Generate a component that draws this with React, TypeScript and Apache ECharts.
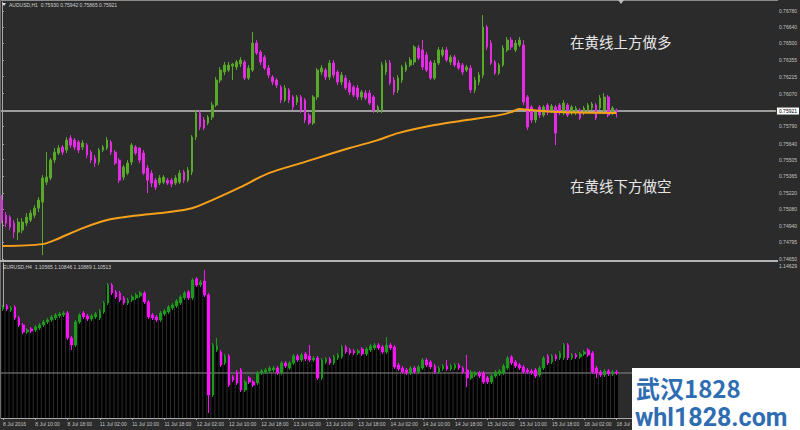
import React, { useEffect, useRef } from 'react';
import * as echarts from 'echarts';

// ---------- DATA ----------
const timeLabels = [
  '8 Jul 2016', '8 Jul 10:00', '8 Jul 18:00', '11 Jul 02:00', '11 Jul 10:00', '11 Jul 18:00',
  '12 Jul 02:00', '12 Jul 10:00', '12 Jul 18:00', '13 Jul 02:00', '13 Jul 10:00', '13 Jul 18:00',
  '14 Jul 02:00', '14 Jul 10:00', '14 Jul 18:00', '15 Jul 02:00', '15 Jul 10:00', '15 Jul 18:00',
  '18 Jul 02:00', '18 Jul 10:00',
];
const BARS_PER_LABEL = 8;
const TOTAL_SLOTS = 192; // bars that fit across the chart (right part left empty by chart shift)

const audPriceTicks = [
  0.7678, 0.7664, 0.765, 0.76355, 0.76215, 0.7607, 0.7579, 0.7564, 0.75505,
  0.75365, 0.7522, 0.7508, 0.7494, 0.74795, 0.7465,
];
const audBid = 0.75921;
const audHeader = 'AUDUSD,H1  0.75930 0.75942 0.75865 0.75921';

// AUDUSD H1 : [open, close, low, high]
const audCandles = [
  [0.75158, 0.74987, 0.74961, 0.75201], [0.75029, 0.74961, 0.74927, 0.75055], [0.75012, 0.74927, 0.74901, 0.75029],
  [0.74961, 0.74884, 0.74832, 0.74987], [0.74884, 0.7497, 0.74815, 0.75004], [0.74901, 0.7497, 0.74875, 0.75004],
  [0.74961, 0.75012, 0.74935, 0.75047], [0.74987, 0.75047, 0.7497, 0.75072], [0.75029, 0.75089, 0.75004, 0.75115],
  [0.75089, 0.75158, 0.75055, 0.75184], [0.75141, 0.75347, 0.74687, 0.75372], [0.75312, 0.75355, 0.75287, 0.75569],
  [0.75347, 0.75501, 0.75329, 0.75518], [0.75501, 0.75569, 0.75475, 0.75604], [0.75561, 0.75604, 0.75544, 0.75629],
  [0.75612, 0.75569, 0.75544, 0.75629], [0.75587, 0.75672, 0.75561, 0.75698], [0.75689, 0.75629, 0.75604, 0.75715],
  [0.75672, 0.75612, 0.75587, 0.75689], [0.75655, 0.75587, 0.75561, 0.75672], [0.75612, 0.75647, 0.75587, 0.75672],
  [0.75629, 0.75544, 0.75518, 0.75647], [0.75569, 0.75501, 0.75475, 0.75587], [0.75518, 0.75475, 0.75441, 0.75544],
  [0.75484, 0.75587, 0.75458, 0.75604], [0.75587, 0.75612, 0.75569, 0.75629], [0.75604, 0.75672, 0.75587, 0.75698],
  [0.75655, 0.75569, 0.75544, 0.75672], [0.75569, 0.75475, 0.75458, 0.75587], [0.75501, 0.75329, 0.75304, 0.75518],
  [0.75355, 0.75441, 0.75329, 0.75458], [0.75389, 0.75475, 0.75372, 0.75501], [0.75484, 0.75629, 0.75458, 0.75647],
  [0.75612, 0.75561, 0.75544, 0.75629], [0.75604, 0.75501, 0.75475, 0.75612], [0.75561, 0.75389, 0.75372, 0.75587],
  [0.75432, 0.75329, 0.75218, 0.75458], [0.75389, 0.75304, 0.75269, 0.75415], [0.75329, 0.75269, 0.75244, 0.75347],
  [0.75304, 0.75347, 0.75287, 0.75372], [0.75312, 0.75355, 0.75295, 0.75372], [0.75329, 0.75304, 0.75287, 0.75347],
  [0.75329, 0.75295, 0.75269, 0.75347], [0.75304, 0.75347, 0.75287, 0.75372], [0.75312, 0.75389, 0.75295, 0.75415],
  [0.75398, 0.75329, 0.75304, 0.75415], [0.75329, 0.75415, 0.75312, 0.75441], [0.75398, 0.75698, 0.75372, 0.75715],
  [0.75698, 0.75904, 0.75672, 0.75929], [0.75904, 0.75784, 0.75758, 0.75929], [0.75844, 0.75775, 0.75758, 0.75869],
  [0.75818, 0.75869, 0.75801, 0.75886], [0.75869, 0.75972, 0.75844, 0.75998], [0.75972, 0.76186, 0.75955, 0.76212],
  [0.76186, 0.76272, 0.76161, 0.76298], [0.76255, 0.76315, 0.76229, 0.76341], [0.76272, 0.76315, 0.76255, 0.76341],
  [0.76306, 0.76323, 0.76186, 0.76332], [0.76298, 0.76341, 0.76272, 0.76358], [0.76323, 0.76358, 0.76298, 0.76383],
  [0.76341, 0.76203, 0.76186, 0.76358], [0.76203, 0.76289, 0.76186, 0.76315], [0.76272, 0.76503, 0.76255, 0.76598],
  [0.76503, 0.76418, 0.76401, 0.76529], [0.76426, 0.76341, 0.76315, 0.76444], [0.76383, 0.76289, 0.76272, 0.76401],
  [0.76289, 0.76229, 0.76203, 0.76315], [0.76212, 0.76169, 0.76143, 0.76229], [0.76186, 0.76143, 0.76118, 0.76203],
  [0.76126, 0.76015, 0.75989, 0.76143], [0.76015, 0.76118, 0.75998, 0.76143], [0.76101, 0.76015, 0.75989, 0.76118],
  [0.76041, 0.75955, 0.75929, 0.76058], [0.75998, 0.76041, 0.75972, 0.76058], [0.76041, 0.75929, 0.75904, 0.76058],
  [0.76015, 0.75844, 0.75818, 0.76032], [0.75886, 0.75818, 0.75801, 0.75904], [0.75818, 0.76041, 0.75801, 0.76058],
  [0.76041, 0.76272, 0.76015, 0.76289], [0.76255, 0.76289, 0.76229, 0.76315], [0.76272, 0.76212, 0.76186, 0.76289],
  [0.76212, 0.76332, 0.76186, 0.76358], [0.76332, 0.76229, 0.76203, 0.76358], [0.76255, 0.76169, 0.76143, 0.76272],
  [0.76169, 0.76229, 0.76143, 0.76255], [0.76203, 0.76118, 0.76101, 0.76229], [0.76161, 0.76084, 0.76058, 0.76186],
  [0.76126, 0.76058, 0.76041, 0.76143], [0.76118, 0.76041, 0.76015, 0.76143], [0.76041, 0.76084, 0.76015, 0.76101],
  [0.76075, 0.76032, 0.76015, 0.76101], [0.76075, 0.75989, 0.75972, 0.76101], [0.76041, 0.75929, 0.75904, 0.76058],
  [0.75929, 0.75955, 0.75904, 0.75972], [0.75929, 0.76315, 0.75904, 0.76341], [0.76255, 0.76332, 0.76229, 0.76358],
  [0.76332, 0.76161, 0.76143, 0.76358], [0.76186, 0.76084, 0.76058, 0.76212], [0.76101, 0.76203, 0.76075, 0.76229],
  [0.76186, 0.76298, 0.76161, 0.76315], [0.76272, 0.76315, 0.76255, 0.76341], [0.76315, 0.76358, 0.76298, 0.76383],
  [0.76341, 0.76469, 0.76315, 0.76486], [0.76461, 0.76375, 0.76358, 0.76486], [0.76444, 0.76298, 0.76272, 0.76529],
  [0.76401, 0.76272, 0.76255, 0.76426], [0.76341, 0.76203, 0.76186, 0.76358], [0.76203, 0.76332, 0.76186, 0.76358],
  [0.76332, 0.76444, 0.76315, 0.76469], [0.76401, 0.76444, 0.76383, 0.76469], [0.76444, 0.76358, 0.76341, 0.76469],
  [0.76341, 0.76383, 0.76315, 0.76401], [0.76383, 0.76315, 0.76298, 0.76401], [0.76332, 0.76289, 0.76272, 0.76358],
  [0.76315, 0.76255, 0.76229, 0.76332], [0.76272, 0.76298, 0.76255, 0.76315], [0.76289, 0.76101, 0.76075, 0.76315],
  [0.76101, 0.76186, 0.76075, 0.76212], [0.76169, 0.76229, 0.76143, 0.76255], [0.76229, 0.76641, 0.76203, 0.76743],
  [0.76641, 0.76469, 0.76444, 0.76658], [0.76503, 0.76332, 0.76315, 0.76529], [0.76341, 0.76246, 0.76229, 0.76358],
  [0.76246, 0.76315, 0.76229, 0.76332], [0.76315, 0.76461, 0.76298, 0.76486], [0.76444, 0.76529, 0.76426, 0.76555],
  [0.76529, 0.76469, 0.76444, 0.76555], [0.76444, 0.76503, 0.76426, 0.76529], [0.76486, 0.76529, 0.76469, 0.76555],
  [0.76486, 0.75998, 0.75972, 0.76529], [0.76041, 0.75784, 0.75758, 0.76058], [0.75955, 0.75844, 0.75818, 0.75972],
  [0.75844, 0.75912, 0.75818, 0.75929], [0.75955, 0.75886, 0.75861, 0.75972], [0.75886, 0.75955, 0.75869, 0.75972],
  [0.75972, 0.75912, 0.75886, 0.75989], [0.75921, 0.75964, 0.75904, 0.75981], [0.75955, 0.75732, 0.75629, 0.75972],
  [0.75972, 0.75912, 0.75886, 0.75989], [0.75904, 0.75989, 0.75886, 0.76015], [0.75972, 0.75886, 0.75869, 0.75989],
  [0.75904, 0.75955, 0.75886, 0.75972], [0.75912, 0.75946, 0.75886, 0.75964], [0.75929, 0.75861, 0.75844, 0.75946],
  [0.75912, 0.75946, 0.75886, 0.75964], [0.75929, 0.75972, 0.75904, 0.75989], [0.75946, 0.75981, 0.75929, 0.75998],
  [0.75972, 0.75861, 0.75844, 0.75989], [0.75946, 0.76032, 0.75929, 0.76058], [0.75929, 0.76041, 0.75912, 0.76075],
  [0.76041, 0.75886, 0.75869, 0.76058], [0.75912, 0.75946, 0.75886, 0.75964], [0.7593, 0.75921, 0.75865, 0.75942],
];

// orange moving average, read at a few bar positions: [bar index, value]
const audMA = [
  [0, 0.74764], [10, 0.74781], [13, 0.74815], [20, 0.74918], [26, 0.74987], [34, 0.75029],
  [41, 0.75055], [47, 0.75089], [52, 0.75158], [59, 0.75269], [66, 0.75389], [74, 0.75475],
  [86, 0.75604], [93, 0.75672], [98, 0.75732], [107, 0.75801], [115, 0.75844], [123, 0.75886],
  [126, 0.75912], [128, 0.75938], [131, 0.75929], [138, 0.75912], [152, 0.75904],
];

const eurTopPrice = 1.14629;
const eurLevel = 1.10565;
const eurHeader = 'EURUSD,H4  1.10565 1.10846 1.10889 1.10513';

// EURUSD H4 : [open, close, low, high]
const eurCandles = [
  [1.12929, 1.13003, 1.12855, 1.13077], [1.1304, 1.12929, 1.12855, 1.13114], [1.12892, 1.12966, 1.12818, 1.1304],
  [1.13003, 1.12597, 1.12523, 1.13077], [1.12597, 1.12338, 1.12264, 1.12671], [1.12338, 1.12079, 1.12006, 1.12412],
  [1.12079, 1.12153, 1.12006, 1.12227], [1.1219, 1.12116, 1.12042, 1.12264], [1.12153, 1.12264, 1.12079, 1.12338],
  [1.12227, 1.12338, 1.12153, 1.12412], [1.12338, 1.12449, 1.12264, 1.12523], [1.12449, 1.12523, 1.12375, 1.12597],
  [1.12523, 1.12634, 1.12449, 1.12708], [1.12597, 1.12708, 1.12523, 1.12782], [1.12671, 1.12745, 1.12597, 1.12818],
  [1.12708, 1.12782, 1.12634, 1.12855], [1.12782, 1.11858, 1.11784, 1.12855], [1.11858, 1.11599, 1.11414, 1.11932],
  [1.11599, 1.12449, 1.11525, 1.12523], [1.12449, 1.12708, 1.12375, 1.12782], [1.12782, 1.12634, 1.1256, 1.12855],
  [1.12671, 1.1256, 1.12486, 1.12745], [1.1256, 1.12671, 1.12486, 1.12745], [1.12634, 1.12745, 1.1256, 1.12818],
  [1.12597, 1.12855, 1.12523, 1.12929], [1.12818, 1.13151, 1.12745, 1.13225], [1.13151, 1.13816, 1.13077, 1.1389],
  [1.13816, 1.1352, 1.13447, 1.1389], [1.13557, 1.13373, 1.13299, 1.13631], [1.1352, 1.13262, 1.13188, 1.13594],
  [1.13336, 1.13151, 1.13077, 1.1341], [1.13151, 1.13262, 1.13077, 1.13336], [1.13262, 1.13373, 1.13188, 1.13447],
  [1.13336, 1.13447, 1.13262, 1.1352], [1.1341, 1.1352, 1.13336, 1.13594], [1.1352, 1.13188, 1.13114, 1.13594],
  [1.13188, 1.12634, 1.1256, 1.13262], [1.12708, 1.12597, 1.12523, 1.12782], [1.12634, 1.12523, 1.12449, 1.12708],
  [1.12523, 1.12782, 1.12449, 1.12855], [1.12745, 1.12855, 1.12671, 1.12929], [1.12818, 1.13003, 1.12745, 1.13077],
  [1.12966, 1.13077, 1.12892, 1.13151], [1.1304, 1.13225, 1.12966, 1.13299], [1.13151, 1.13373, 1.13077, 1.13447],
  [1.13336, 1.1352, 1.13262, 1.13594], [1.13557, 1.13336, 1.13262, 1.13631], [1.13336, 1.14001, 1.13262, 1.14075],
  [1.14038, 1.13816, 1.13742, 1.14112], [1.13816, 1.13927, 1.13742, 1.14001], [1.13964, 1.13447, 1.13373, 1.1437],
  [1.13447, 1.09752, 1.09087, 1.1352], [1.09752, 1.11599, 1.09678, 1.11673], [1.11414, 1.11562, 1.1134, 1.11858],
  [1.1134, 1.1086, 1.10786, 1.11414], [1.10934, 1.11193, 1.1086, 1.11267], [1.11193, 1.10121, 1.10047, 1.11267],
  [1.10417, 1.10306, 1.10232, 1.10491], [1.10601, 1.10195, 1.10121, 1.10675], [1.10675, 1.09936, 1.09862, 1.10749],
  [1.09936, 1.10232, 1.09862, 1.10306], [1.1038, 1.10232, 1.10158, 1.10454], [1.10232, 1.10121, 1.10047, 1.10306],
  [1.10195, 1.10565, 1.10121, 1.10638], [1.10565, 1.10638, 1.10491, 1.10712], [1.10601, 1.10675, 1.10528, 1.10749],
  [1.10638, 1.10749, 1.10565, 1.10823], [1.10675, 1.10749, 1.10601, 1.10823], [1.10749, 1.10565, 1.10491, 1.10823],
  [1.10565, 1.10934, 1.10491, 1.11008], [1.10934, 1.10823, 1.10749, 1.11008], [1.10749, 1.10934, 1.10675, 1.11008],
  [1.10934, 1.11193, 1.1086, 1.11267], [1.11193, 1.11045, 1.10971, 1.11267], [1.11045, 1.1123, 1.10971, 1.11303],
  [1.11267, 1.11082, 1.11008, 1.1134], [1.11193, 1.11045, 1.10971, 1.11599], [1.11045, 1.11119, 1.10971, 1.11193],
  [1.11119, 1.1038, 1.10306, 1.11193], [1.1038, 1.11045, 1.10306, 1.11119], [1.10971, 1.11082, 1.10897, 1.11156],
  [1.11082, 1.10934, 1.1086, 1.11156], [1.10934, 1.11156, 1.1086, 1.1123], [1.11119, 1.1123, 1.11045, 1.11303],
  [1.11156, 1.11525, 1.11082, 1.11599], [1.11525, 1.1134, 1.11267, 1.11599], [1.11414, 1.11303, 1.1123, 1.11488],
  [1.11377, 1.11303, 1.1123, 1.11451], [1.11303, 1.11377, 1.1123, 1.11451], [1.11451, 1.11267, 1.11193, 1.11525],
  [1.11267, 1.11451, 1.11193, 1.11525], [1.11414, 1.11562, 1.1134, 1.11636], [1.11488, 1.11599, 1.11414, 1.11673],
  [1.11599, 1.11488, 1.11414, 1.11673], [1.11525, 1.1134, 1.11267, 1.11599], [1.1134, 1.11599, 1.11267, 1.11895],
  [1.11599, 1.11488, 1.11414, 1.11673], [1.11525, 1.10786, 1.10712, 1.11599], [1.1086, 1.10712, 1.10638, 1.10934],
  [1.10749, 1.10601, 1.10528, 1.10823], [1.10675, 1.10565, 1.10491, 1.10749], [1.10565, 1.10749, 1.10491, 1.10823],
  [1.10749, 1.10601, 1.10528, 1.10823], [1.10601, 1.10786, 1.10528, 1.1086], [1.10749, 1.11045, 1.10675, 1.11119],
  [1.11045, 1.1086, 1.10786, 1.11119], [1.10971, 1.10786, 1.10712, 1.11045], [1.10823, 1.10601, 1.10528, 1.10897],
  [1.10601, 1.10749, 1.10528, 1.10823], [1.10712, 1.10823, 1.10638, 1.10897], [1.10823, 1.10712, 1.10638, 1.11045],
  [1.10712, 1.10823, 1.10638, 1.10897], [1.10749, 1.1086, 1.10675, 1.10934], [1.1086, 1.10749, 1.10675, 1.10934],
  [1.10749, 1.10601, 1.10528, 1.10823], [1.10675, 1.1038, 1.10047, 1.1123], [1.1038, 1.10601, 1.10306, 1.10675],
  [1.10491, 1.10565, 1.10417, 1.10638], [1.10565, 1.10454, 1.1038, 1.10638], [1.10565, 1.10232, 1.10158, 1.10638],
  [1.1038, 1.10232, 1.10158, 1.10454], [1.10232, 1.10454, 1.10158, 1.10528], [1.10454, 1.10601, 1.1038, 1.10675],
  [1.10528, 1.10638, 1.10454, 1.10712], [1.10565, 1.10823, 1.10491, 1.10897], [1.10749, 1.11119, 1.10675, 1.11193],
  [1.11156, 1.10934, 1.1086, 1.1123], [1.10971, 1.10823, 1.10749, 1.11045], [1.1086, 1.10749, 1.10675, 1.10934],
  [1.10786, 1.10601, 1.10528, 1.1086], [1.10675, 1.10601, 1.10528, 1.10749], [1.10638, 1.10565, 1.10491, 1.10712],
  [1.10675, 1.10454, 1.1038, 1.10749], [1.10491, 1.10749, 1.10417, 1.10823], [1.10749, 1.11119, 1.10675, 1.11193],
  [1.11193, 1.10934, 1.1086, 1.11267], [1.10971, 1.11193, 1.10897, 1.11267], [1.11193, 1.11082, 1.11008, 1.11267],
  [1.11119, 1.11303, 1.11045, 1.11377], [1.11119, 1.11599, 1.11045, 1.11673], [1.11599, 1.11119, 1.11045, 1.11673],
  [1.11119, 1.1123, 1.11045, 1.11303], [1.1123, 1.11156, 1.11082, 1.11303], [1.11156, 1.11267, 1.11082, 1.1134],
  [1.11267, 1.1134, 1.11193, 1.11414], [1.11414, 1.1123, 1.11156, 1.11488], [1.11303, 1.10601, 1.10528, 1.11377],
  [1.10749, 1.10565, 1.1038, 1.10823], [1.10601, 1.10491, 1.10417, 1.10675], [1.10491, 1.10638, 1.10417, 1.10712],
  [1.10638, 1.10528, 1.10454, 1.10712], [1.10528, 1.10601, 1.10454, 1.10675], [1.10601, 1.10565, 1.10491, 1.10675],
];

const textAbove = '在黄线上方做多';
const textBelow = '在黄线下方做空';
const wmLine1 = '武汉1828';
const wmLine2 = 'whl1828.com';

// ---------- CHART ----------
const BG = '#2b2b2b';
const AX = '#a8a8a8';
const LBL = '#c4c4c4';
const SMALL = 5;
const FONT = 'Liberation Sans, Arial, sans-serif';

function buildOption() {
  const cats = Array.from({ length: TOTAL_SLOTS }, (_, i) => String(i));
  const isLabelSlot = (i: number) => i % BARS_PER_LABEL === 0 && i / BARS_PER_LABEL < timeLabels.length;
  const gridTop = { left: 0, right: 22, top: 2, height: 258 };
  const gridBot = { left: 0, right: 22, top: 263, height: 155 };
  const xSpan: [number, number] = [-0.5, TOTAL_SLOTS - 0.5];

  return {
    animation: false,
    backgroundColor: BG,
    textStyle: { fontFamily: FONT },
    grid: [gridTop, gridBot],
    xAxis: [
      { type: 'category', gridIndex: 0, data: cats, show: false },
      {
        type: 'category', gridIndex: 1, data: cats,
        axisLine: { lineStyle: { color: AX } },
        axisTick: { show: true, interval: (i: number) => isLabelSlot(i), alignWithLabel: true, length: 2, lineStyle: { color: AX } },
        axisLabel: {
          interval: (i: number) => isLabelSlot(i),
          formatter: (_v: string, i: number) => timeLabels[i / BARS_PER_LABEL] ?? '',
          align: 'left', fontSize: SMALL, color: LBL, margin: 3, fontFamily: FONT,
        },
        splitLine: { show: false },
      },
      { type: 'value', gridIndex: 0, min: xSpan[0], max: xSpan[1], show: false },
      { type: 'value', gridIndex: 1, min: xSpan[0], max: xSpan[1], show: false },
    ],
    yAxis: [
      {
        type: 'value', gridIndex: 0, position: 'right', min: 0.74645, max: 0.76855,
        splitLine: { show: false },
        axisLine: { show: true, lineStyle: { color: AX } },
        axisTick: { show: true, customValues: audPriceTicks, length: 2, lineStyle: { color: AX } },
        axisLabel: {
          customValues: audPriceTicks, formatter: (v: number) => v.toFixed(5),
          fontSize: SMALL, color: LBL, margin: 3, align: 'left', fontFamily: FONT,
        },
      },
      {
        type: 'value', gridIndex: 1, position: 'right', min: 1.08902, max: eurTopPrice,
        splitLine: { show: false },
        axisLine: { show: true, lineStyle: { color: AX } },
        axisTick: { show: false },
        axisLabel: {
          customValues: [eurTopPrice], formatter: (v: number) => v.toFixed(5),
          fontSize: SMALL, color: LBL, margin: 3, align: 'left', verticalAlign: 'top', fontFamily: FONT,
        },
      },
    ],
    series: [
      {
        // bid line of the main chart
        type: 'line', xAxisIndex: 2, yAxisIndex: 0, data: xSpan.map((x) => [x, audBid]), symbol: 'none',
        lineStyle: { color: '#9c9c9c', width: 2 }, z: 2, silent: true,
        endLabel: {
          show: true, formatter: () => audBid.toFixed(5), distance: 1,
          backgroundColor: '#ffffff', color: '#000', fontSize: SMALL, padding: [1, 2], fontFamily: FONT,
        },
      },
      {
        type: 'candlestick', xAxisIndex: 0, yAxisIndex: 0, data: audCandles, barWidth: 2.2,
        itemStyle: { color: '#58a82a', color0: '#e22de2', borderColor: '#58a82a', borderColor0: '#e22de2', borderWidth: 1 },
        z: 3,
      },
      {
        type: 'line', xAxisIndex: 2, yAxisIndex: 0, data: audMA, smooth: 0.3, symbol: 'none',
        lineStyle: { color: '#f7a11a', width: 2 }, z: 5,
      },
      {
        type: 'bar', xAxisIndex: 1, yAxisIndex: 1, data: eurCandles.map((c) => c[1]), barWidth: 3,
        itemStyle: { color: '#000000' }, z: 2,
      },
      {
        type: 'line', xAxisIndex: 3, yAxisIndex: 1, data: xSpan.map((x) => [x, eurLevel]), symbol: 'none',
        lineStyle: { color: '#8a8a8a', width: 1 }, z: 3, silent: true,
      },
      {
        type: 'candlestick', xAxisIndex: 1, yAxisIndex: 1, data: eurCandles, barWidth: 2.2,
        itemStyle: { color: '#1c9a1c', color0: '#ff10ff', borderColor: '#1c9a1c', borderColor0: '#ff10ff', borderWidth: 1 },
        z: 4,
      },
    ],
    graphic: [
      { type: 'line', shape: { x1: 0, y1: 0.5, x2: 778, y2: 0.5 }, style: { stroke: '#8c8c8c', lineWidth: 1 }, z: 10 },
      { type: 'line', shape: { x1: 0.5, y1: 0, x2: 0.5, y2: 418 }, style: { stroke: '#6e6e6e', lineWidth: 1 }, z: 10 },
      { type: 'line', shape: { x1: 0, y1: 261, x2: 778, y2: 261 }, style: { stroke: '#b4b4b4', lineWidth: 2 }, z: 10 },
      { type: 'polygon', shape: { points: [[618, 0], [624, 0], [621, 4]] }, style: { fill: '#bdbdbd' }, z: 11 },
      { type: 'polygon', shape: { points: [[2, 3], [6, 3], [4, 6]] }, style: { fill: '#e0e0e0' }, z: 11 },
      { type: 'text', x: 9, y: 2, style: { text: audHeader, fill: '#d0d0d0', fontSize: SMALL, fontFamily: FONT }, z: 11 },
      { type: 'text', x: 3, y: 264, style: { text: eurHeader, fill: '#d0d0d0', fontSize: SMALL, fontFamily: FONT }, z: 11 },
      {
        type: 'text', x: 570, y: 41,
        style: { text: textAbove, fill: '#e6e6e6', fontSize: 14.5, fontFamily: 'Noto Sans CJK SC', verticalAlign: 'middle' }, z: 11,
      },
      {
        type: 'text', x: 570, y: 185,
        style: { text: textBelow, fill: '#e6e6e6', fontSize: 14.5, fontFamily: 'Noto Sans CJK SC', verticalAlign: 'middle' }, z: 11,
      },
      { type: 'rect', shape: { x: 632, y: 368, width: 168, height: 62 }, style: { fill: '#ffffff' }, z: 20 },
      {
        type: 'text', x: 636, y: 387,
        style: { text: wmLine1, fill: '#2f6db3', fontSize: 24, fontWeight: 'bold', fontFamily: 'Noto Sans CJK SC', verticalAlign: 'middle', lineHeight: 24 }, z: 21,
      },
      {
        type: 'text', x: 635, y: 417,
        style: { text: wmLine2, fill: '#2f6db3', fontSize: 25, fontWeight: 'bold', fontFamily: 'Roboto', verticalAlign: 'middle', lineHeight: 25 }, z: 21,
      },
    ],
  };
}

export default function App() {
  const ref = useRef<HTMLDivElement>(null);
  useEffect(() => {
    if (!ref.current) return;
    const chart = echarts.init(ref.current, null, { renderer: 'svg' });
    chart.setOption(buildOption() as any);
    return () => chart.dispose();
  }, []);
  return <div ref={ref} style={{ position: 'fixed', left: 0, top: 0, width: 800, height: 430, background: BG }} />;
}
